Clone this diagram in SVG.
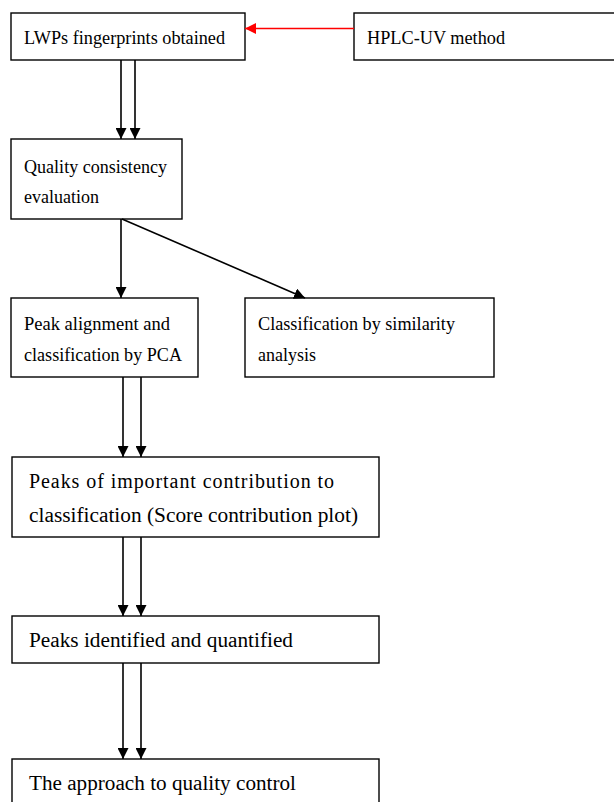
<svg xmlns="http://www.w3.org/2000/svg" width="614" height="802" viewBox="0 0 614 802">
<style>
.box{fill:#fff;stroke:#000;stroke-width:1.4}
.t{font-family:"Liberation Serif","Times New Roman",serif;font-size:19px;fill:#000}
.u{font-size:20px}
.c{stroke:#000;stroke-width:1.6;fill:none}
</style>
<defs>
<marker id="ah" markerWidth="11" markerHeight="11" refX="11" refY="5.5" orient="auto" markerUnits="userSpaceOnUse" viewBox="0 0 11 11"><path d="M0,0 L11,5.5 L0,11 z" fill="#000"/></marker>
<marker id="ahr" markerWidth="11" markerHeight="11" refX="11" refY="5.5" orient="auto" markerUnits="userSpaceOnUse" viewBox="0 0 11 11"><path d="M0,0 L11,5.5 L0,11 z" fill="#f00"/></marker>
</defs>
<rect width="614" height="802" fill="#fff"/>
<g id="n1"><rect class="box" x="11" y="13" width="234" height="47"/><text class="t" x="24" y="44" textLength="201" lengthAdjust="spacingAndGlyphs">LWPs fingerprints obtained</text></g>
<g id="n2"><rect class="box" x="354" y="13" width="262" height="47"/><text class="t" x="367" y="44" textLength="138" lengthAdjust="spacingAndGlyphs">HPLC-UV method</text></g>
<g id="n3"><rect class="box" x="11" y="139" width="171" height="80"/><text class="t" x="24" y="173" textLength="143" lengthAdjust="spacingAndGlyphs">Quality consistency</text><text class="t" x="24" y="203" textLength="75" lengthAdjust="spacingAndGlyphs">evaluation</text></g>
<g id="n4"><rect class="box" x="11" y="298" width="187" height="79"/><text class="t" x="24" y="330" textLength="146" lengthAdjust="spacingAndGlyphs">Peak alignment and</text><text class="t" x="24" y="361" textLength="158" lengthAdjust="spacingAndGlyphs">classification by PCA</text></g>
<g id="n5"><rect class="box" x="245" y="298" width="249" height="79"/><text class="t" x="258" y="330" textLength="197" lengthAdjust="spacingAndGlyphs">Classification by similarity</text><text class="t" x="258" y="361" textLength="58" lengthAdjust="spacingAndGlyphs">analysis</text></g>
<g id="n6"><rect class="box" x="12" y="457" width="367" height="80"/><text class="t u" x="29" y="488" textLength="305" lengthAdjust="spacing">Peaks of important contribution to</text><text class="t u" x="29" y="522" textLength="329" lengthAdjust="spacingAndGlyphs">classification (Score contribution plot)</text></g>
<g id="n7"><rect class="box" x="12" y="616" width="367" height="47"/><text class="t u" x="29" y="647" textLength="264" lengthAdjust="spacingAndGlyphs">Peaks identified and quantified</text></g>
<g id="n8"><rect class="box" x="12" y="759" width="367" height="50"/><text class="t u" x="29" y="790" textLength="267" lengthAdjust="spacingAndGlyphs">The approach to quality control</text></g>
<g id="connectors">
<line x1="354" y1="28.5" x2="245" y2="28.5" stroke="#f00" stroke-width="1.6" marker-end="url(#ahr)"/>
<line class="c" x1="121" y1="60" x2="121" y2="139" marker-end="url(#ah)"/>
<line class="c" x1="135" y1="60" x2="135" y2="139" marker-end="url(#ah)"/>
<line class="c" x1="121" y1="219" x2="121" y2="298" marker-end="url(#ah)"/>
<line class="c" x1="122" y1="219" x2="305" y2="298" marker-end="url(#ah)"/>
<line class="c" x1="123" y1="377" x2="123" y2="457" marker-end="url(#ah)"/>
<line class="c" x1="141" y1="377" x2="141" y2="457" marker-end="url(#ah)"/>
<line class="c" x1="123" y1="537" x2="123" y2="616" marker-end="url(#ah)"/>
<line class="c" x1="141" y1="537" x2="141" y2="616" marker-end="url(#ah)"/>
<line class="c" x1="123" y1="663" x2="123" y2="759" marker-end="url(#ah)"/>
<line class="c" x1="141" y1="663" x2="141" y2="759" marker-end="url(#ah)"/>
</g>
</svg>
